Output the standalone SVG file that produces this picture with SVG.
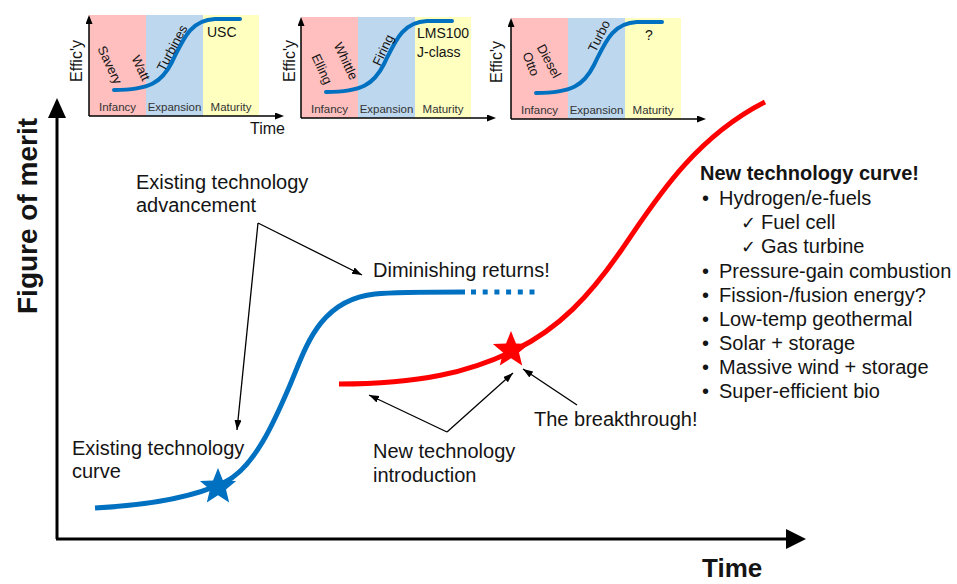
<svg xmlns="http://www.w3.org/2000/svg" width="957" height="584" viewBox="0 0 957 584">
<style>
text{font-family:"Liberation Sans",Arial,sans-serif;fill:#141414}
.lbl{font-size:20px}
.b{font-weight:bold}
.tiny{font-size:11.5px;fill:#333}
.rot{font-size:13px}
.ins{font-size:14px}
.eff{font-size:16px}
.ck{font-family:"DejaVu Sans",sans-serif;font-size:18px}
.pink{fill:#FFBFBF}
.blue{fill:#BDD7EE}
.yel{fill:#FFFFC0}
.icurve{fill:none;stroke:#0070C0;stroke-width:4;stroke-linecap:round}
.iax{stroke:#000;stroke-width:1.5;fill:none}
.ann{stroke:#000;stroke-width:1.3;fill:none;marker-end:url(#arr)}
</style>
<defs>
<marker id="arr" markerUnits="userSpaceOnUse" markerWidth="11" markerHeight="8" refX="10" refY="3.5" orient="auto"><path d="M0,0 L10,3.5 L0,7 z" fill="#000"/></marker>
<marker id="arrS" markerUnits="userSpaceOnUse" markerWidth="10" markerHeight="8" refX="2" refY="3.5" orient="auto"><path d="M0,0 L9,3.5 L0,7 z" fill="#000"/></marker>
<g id="frame">
<rect class="pink" x="89" y="15" width="57" height="101"/>
<rect class="blue" x="146" y="15" width="57" height="101"/>
<rect class="yel" x="203" y="15" width="56" height="101"/>
<path class="icurve" d="M114,90 C150,90 162,82 172,62 C183,40 190,20 215,19 L240,19"/>
<path class="iax" d="M89,116 L89,22" marker-end="url(#arrS)"/>
<path class="iax" d="M89,116 L277,116" marker-end="url(#arrS)"/>
<text class="tiny" x="117.5" y="111" text-anchor="middle">Infancy</text>
<text class="tiny" x="174.5" y="111" text-anchor="middle">Expansion</text>
<text class="tiny" x="231" y="111" text-anchor="middle">Maturity</text>
</g>
</defs>

<g id="inset1">
<use href="#frame"/>
<text class="eff" transform="translate(75.5,61) rotate(-90)" text-anchor="middle" y="6">Effic'y</text>
<text class="eff" x="250" y="134">Time</text>
<text class="rot" transform="translate(110,65) rotate(65)" text-anchor="middle" y="4.5">Savery</text>
<text class="rot" transform="translate(141,68) rotate(65)" text-anchor="middle" y="4.5">Watt</text>
<text class="rot" transform="translate(172,48) rotate(-62)" text-anchor="middle" y="4.5">Turbines</text>
<text class="ins" x="207" y="37">USC</text>
</g>

<g id="inset2">
<use href="#frame" transform="translate(212,2)"/>
<text class="eff" transform="translate(289,61) rotate(-90)" text-anchor="middle" y="6">Effic'y</text>
<text class="rot" transform="translate(322,69) rotate(65)" text-anchor="middle" y="4.5">Elling</text>
<text class="rot" transform="translate(346,61) rotate(65)" text-anchor="middle" y="4.5">Whittle</text>
<text class="rot" transform="translate(383,50) rotate(-65)" text-anchor="middle" y="4.5">Firing</text>
<text class="ins" x="417" y="38">LMS100</text>
<text class="ins" x="417" y="57">J-class</text>
</g>

<g id="inset3">
<use href="#frame" transform="translate(422,3)"/>
<text class="eff" transform="translate(496,62) rotate(-90)" text-anchor="middle" y="6">Effic'y</text>
<text class="rot" transform="translate(531,64) rotate(68)" text-anchor="middle" y="4.5">Otto</text>
<text class="rot" transform="translate(549,61) rotate(62)" text-anchor="middle" y="4.5">Diesel</text>
<text class="rot" transform="translate(599,36) rotate(-63)" text-anchor="middle" y="4.5">Turbo</text>
<text class="ins" x="645" y="40">?</text>
</g>

<g id="axes">
<path d="M57,539 L57,112 M56,539 L792,539" stroke="#000" stroke-width="3" fill="none"/>
<polygon points="57,98 48,118 66,118" fill="#000"/>
<polygon points="806,539 786,529 786,549" fill="#000"/>
<text class="b" font-size="28" transform="translate(37,216) rotate(-90)" text-anchor="middle">Figure of merit</text>
<text class="b" font-size="26" x="702" y="577">Time</text>
</g>

<g id="existing-curve">
<path d="M95,508 C150,505 195,497 225,482 C255,467 275,420 290,385 C305,350 318,300 375,294 C395,292 430,292 465,292" fill="none" stroke="#0070C0" stroke-width="5"/>
<path d="M471,292 L540,292" fill="none" stroke="#0070C0" stroke-width="5" stroke-dasharray="5 6.7"/>
<polygon transform="translate(218,487)" points="0,-19 5,-6.5 18.1,-5.9 8,2.6 11.2,15.4 0,8.3 -11.2,15.4 -8,2.6 -18.1,-5.9 -5,-6.5" fill="#0070C0"/>
</g>

<g id="new-curve">
<path d="M339,384 C420,384 470,372 515,350 C560,328 590,295 620,252 C650,209 690,140 765,102" fill="none" stroke="#FF0000" stroke-width="5"/>
<polygon transform="translate(511,350)" points="0,-19 5,-6.5 18.1,-5.9 8,2.6 11.2,15.4 0,8.3 -11.2,15.4 -8,2.6 -18.1,-5.9 -5,-6.5" fill="#FF0000"/>
</g>

<g id="connectors">
<line class="ann" x1="258" y1="223" x2="362" y2="275"/>
<line class="ann" x1="258" y1="223" x2="237" y2="430"/>
<line class="ann" x1="447" y1="432" x2="369" y2="395"/>
<line class="ann" x1="447" y1="432" x2="513" y2="373"/>
<line class="ann" x1="577" y1="405" x2="523" y2="369"/>
</g>

<g id="label-advancement">
<text class="lbl" x="136" y="189">Existing technology</text>
<text class="lbl" x="136" y="212">advancement</text>
</g>
<g id="label-diminishing">
<text class="lbl" x="373" y="277">Diminishing returns!</text>
</g>
<g id="label-existing">
<text class="lbl" x="72" y="455">Existing technology</text>
<text class="lbl" x="72" y="478">curve</text>
</g>
<g id="label-introduction">
<text class="lbl" x="373" y="458">New technology</text>
<text class="lbl" x="373" y="482">introduction</text>
</g>
<g id="label-breakthrough">
<text class="lbl" x="534" y="426">The breakthrough!</text>
</g>

<g id="list">
<text class="lbl b" x="700" y="180">New technology curve!</text>
<g class="lbl">
<text x="702" y="205">•</text><text x="719" y="205">Hydrogen/e-fuels</text>
<text class="ck" x="741" y="229">✓</text><text x="761" y="229">Fuel cell</text>
<text class="ck" x="741" y="253">✓</text><text x="761" y="253">Gas turbine</text>
<text x="702" y="278">•</text><text x="719" y="278">Pressure-gain combustion</text>
<text x="702" y="302">•</text><text x="719" y="302">Fission-/fusion energy?</text>
<text x="702" y="326">•</text><text x="719" y="326">Low-temp geothermal</text>
<text x="702" y="350">•</text><text x="719" y="350">Solar + storage</text>
<text x="702" y="374">•</text><text x="719" y="374">Massive wind + storage</text>
<text x="702" y="398">•</text><text x="719" y="398">Super-efficient bio</text>
</g>
</g>
</svg>
